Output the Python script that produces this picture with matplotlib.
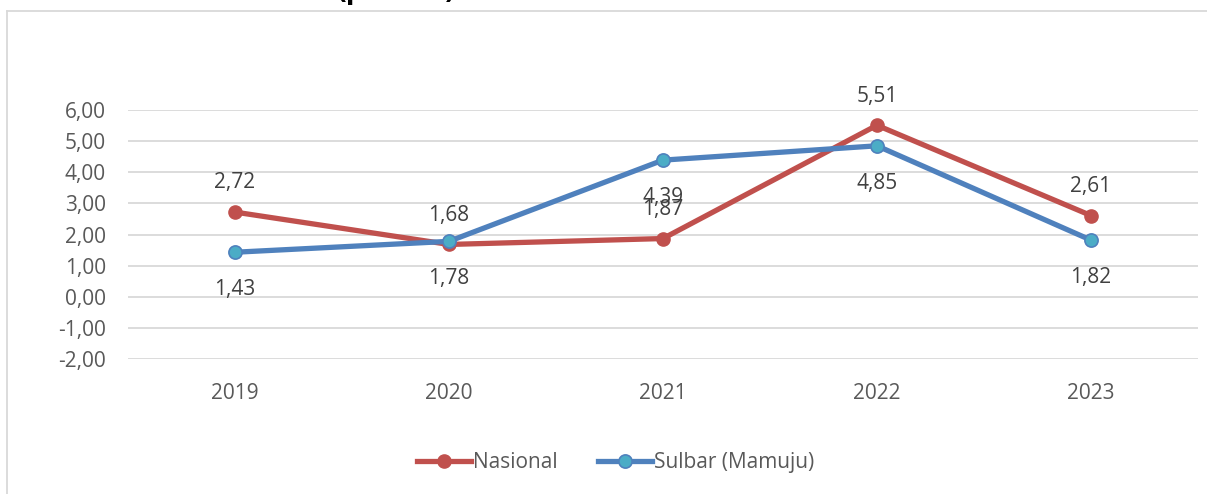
import matplotlib.pyplot as plt
from matplotlib.lines import Line2D

# ------------------ DATA ------------------
years = ['2019', '2020', '2021', '2022', '2023']
nasional = [2.72, 1.68, 1.87, 5.51, 2.61]
sulbar = [1.43, 1.78, 4.39, 4.85, 1.82]
y_ticks = [-2, -1, 0, 1, 2, 3, 4, 5, 6]

RED = '#C0504D'
BLUE = '#4F81BD'
CYAN = '#4BACC6'
GRID = '#D9D9D9'
TXT = '#595959'
LBL = '#404040'

plt.rcParams['font.family'] = ['Open Sans', 'DejaVu Sans']


def fmt(v):
    return f'{v:.2f}'.replace('.', ',')


fig = plt.figure(figsize=(12.07, 4.94), dpi=100)
ax = fig.add_axes([0.1060, 0.2733, 0.8865, 0.5040])

x = range(len(years))

ax.plot(x, nasional, color=RED, lw=3.8, marker='o', ms=9.5,
        mfc=RED, mec=RED, zorder=3, solid_capstyle='round')
ax.plot(x, sulbar, color=BLUE, lw=3.8, marker='o', ms=9.5,
        mfc=CYAN, mec=BLUE, mew=1.2, zorder=4, solid_capstyle='round')

# data labels: Nasional above, Sulbar below
for i, v in enumerate(nasional):
    ax.annotate(fmt(v), (i, v), xytext=(0, 21), textcoords='offset points',
                ha='center', va='center', fontsize=15, color=LBL, zorder=5)
for i, v in enumerate(sulbar):
    ax.annotate(fmt(v), (i, v), xytext=(0, -27), textcoords='offset points',
                ha='center', va='center', fontsize=15, color=LBL, zorder=5)

ax.set_xlim(-0.5, len(years) - 0.5)
ax.set_ylim(-2, 6)
ax.set_yticks(y_ticks)
ax.set_yticklabels([fmt(t) for t in y_ticks])
ax.set_xticks(list(x))
ax.set_xticklabels(years)
ax.tick_params(axis='both', length=0, labelsize=15, labelcolor=TXT)
ax.tick_params(axis='y', pad=16)
ax.tick_params(axis='x', pad=17)
ax.grid(axis='y', color=GRID, lw=1.3)
ax.set_axisbelow(True)
for s in ax.spines.values():
    s.set_visible(False)

# legend
handles = [
    Line2D([], [], color=RED, lw=3.8, marker='o', ms=9.5, mfc=RED, mec=RED),
    Line2D([], [], color=BLUE, lw=3.8, marker='o', ms=9.5, mfc=CYAN, mec=BLUE, mew=1.2),
]
fig.legend(handles, ['Nasional', 'Sulbar (Mamuju)'], loc='center',
           bbox_to_anchor=(0.51, 0.063), ncol=2, frameon=False,
           fontsize=15, labelcolor=TXT, handlelength=2.6, handletextpad=0.1,
           columnspacing=1.9)

# chart area border (cut off at right and bottom)
fig.add_artist(Line2D([7 / 1207, 1.0], [1 - 11 / 494, 1 - 11 / 494],
                      color=GRID, lw=1.3, transform=fig.transFigure))
fig.add_artist(Line2D([7 / 1207, 7 / 1207], [0, 1 - 11 / 494],
                      color=GRID, lw=1.3, transform=fig.transFigure))

# title, mostly outside the visible area
fig.text(337 / 1207, 1 + 2 / 494, '(persen)', fontsize=21, fontweight='bold',
         color='black', ha='left', va='baseline')

fig.savefig('out.png', dpi=100)
